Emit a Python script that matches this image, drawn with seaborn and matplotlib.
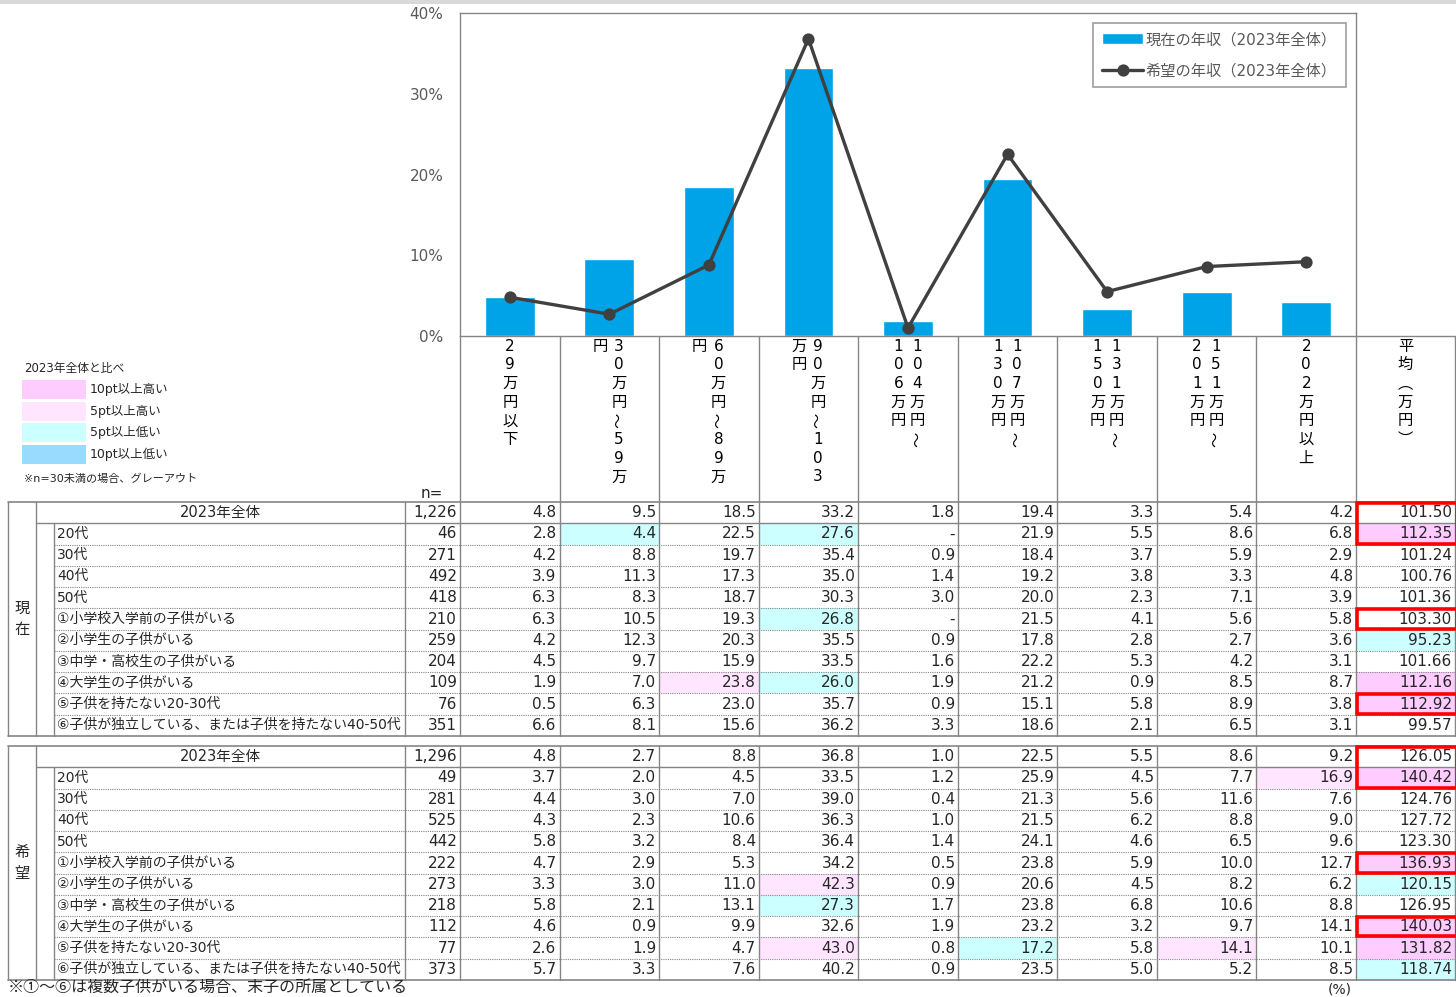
import numpy as np
import pandas as pd
import matplotlib
matplotlib.use("Agg")
import matplotlib.pyplot as plt
import seaborn as sns
from matplotlib.patches import Rectangle

# ---------------- data ----------------
categories = ["29万円以下", "30万円～59万円", "60万円～89万円", "90万円～103万円",
              "104万円～106万円", "107万円～130万円", "131万円～150万円",
              "151万円～201万円", "202万円以上"]
# vertical (tategaki) wrapping of the category headers, right column first
cat_label_columns = [["29万円以下"], ["30万円～59万", "円"], ["60万円～89万", "円"],
                     ["90万円～103", "万円"], ["104万円～", "106万円"], ["107万円～", "130万円"],
                     ["131万円～", "150万円"], ["151万円～", "201万円"], ["202万円以上"]]
mean_header = "平均︵万円︶"

row_labels = ["2023年全体", "20代", "30代", "40代", "50代",
              "①小学校入学前の子供がいる", "②小学生の子供がいる", "③中学・高校生の子供がいる",
              "④大学生の子供がいる", "⑤子供を持たない20-30代",
              "⑥子供が独立している、または子供を持たない40-50代"]

current_n = [1226, 46, 271, 492, 418, 210, 259, 204, 109, 76, 351]
current_vals = [
    [4.8, 9.5, 18.5, 33.2, 1.8, 19.4, 3.3, 5.4, 4.2],
    [2.8, 4.4, 22.5, 27.6, None, 21.9, 5.5, 8.6, 6.8],
    [4.2, 8.8, 19.7, 35.4, 0.9, 18.4, 3.7, 5.9, 2.9],
    [3.9, 11.3, 17.3, 35.0, 1.4, 19.2, 3.8, 3.3, 4.8],
    [6.3, 8.3, 18.7, 30.3, 3.0, 20.0, 2.3, 7.1, 3.9],
    [6.3, 10.5, 19.3, 26.8, None, 21.5, 4.1, 5.6, 5.8],
    [4.2, 12.3, 20.3, 35.5, 0.9, 17.8, 2.8, 2.7, 3.6],
    [4.5, 9.7, 15.9, 33.5, 1.6, 22.2, 5.3, 4.2, 3.1],
    [1.9, 7.0, 23.8, 26.0, 1.9, 21.2, 0.9, 8.5, 8.7],
    [0.5, 6.3, 23.0, 35.7, 0.9, 15.1, 5.8, 8.9, 3.8],
    [6.6, 8.1, 15.6, 36.2, 3.3, 18.6, 2.1, 6.5, 3.1]]
current_mean = [101.50, 112.35, 101.24, 100.76, 101.36, 103.30, 95.23, 101.66,
                112.16, 112.92, 99.57]

desired_n = [1296, 49, 281, 525, 442, 222, 273, 218, 112, 77, 373]
desired_vals = [
    [4.8, 2.7, 8.8, 36.8, 1.0, 22.5, 5.5, 8.6, 9.2],
    [3.7, 2.0, 4.5, 33.5, 1.2, 25.9, 4.5, 7.7, 16.9],
    [4.4, 3.0, 7.0, 39.0, 0.4, 21.3, 5.6, 11.6, 7.6],
    [4.3, 2.3, 10.6, 36.3, 1.0, 21.5, 6.2, 8.8, 9.0],
    [5.8, 3.2, 8.4, 36.4, 1.4, 24.1, 4.6, 6.5, 9.6],
    [4.7, 2.9, 5.3, 34.2, 0.5, 23.8, 5.9, 10.0, 12.7],
    [3.3, 3.0, 11.0, 42.3, 0.9, 20.6, 4.5, 8.2, 6.2],
    [5.8, 2.1, 13.1, 27.3, 1.7, 23.8, 6.8, 10.6, 8.8],
    [4.6, 0.9, 9.9, 32.6, 1.9, 23.2, 3.2, 9.7, 14.1],
    [2.6, 1.9, 4.7, 43.0, 0.8, 17.2, 5.8, 14.1, 10.1],
    [5.7, 3.3, 7.6, 40.2, 0.9, 23.5, 5.0, 5.2, 8.5]]
desired_mean = [126.05, 140.42, 124.76, 127.72, 123.30, 136.93, 120.15, 126.95,
                140.03, 131.82, 118.74]

# highlight levels: (row, col) -> level ; col 9 = mean
current_highlight = {(1, 1): -1, (1, 3): -1, (1, 9): 2, (5, 3): -1, (6, 9): -1,
                     (8, 2): 1, (8, 3): -1, (8, 9): 2, (9, 9): 2}
desired_highlight = {(1, 8): 1, (1, 9): 2, (5, 9): 2, (6, 3): 1, (6, 9): -1, (7, 3): -1,
                     (8, 9): 2, (9, 3): 1, (9, 5): -1, (9, 7): 1, (9, 9): 2, (10, 9): -1}
current_boxes = [(0, 1), (5, 5), (9, 9)]
desired_boxes = [(0, 1), (5, 5), (8, 8)]

legend_levels = [2, 1, -1, -2]
legend_texts = ["10pt以上高い", "5pt以上高い", "5pt以上低い", "10pt以上低い"]

series_names = ["現在の年収（2023年全体）", "希望の年収（2023年全体）"]
group_names = ["現在", "希望"]

# ---------------- style ----------------
sns.set_style("white")
plt.rcParams['font.family'] = ['DejaVu Sans', 'Noto Sans CJK JP']
BAR_C = "#00A2E8"
LINE_C = "#404040"
GRID_C = "#858585"
TXT_C = "#595959"
level_colors = {2: "#FFCCFF", 1: "#FFE5FF", -1: "#CCFFFF", -2: "#99DAFF"}

W, H = 1456, 997
fig = plt.figure(figsize=(W / 100, H / 100), dpi=100)
ax0 = fig.add_axes([0, 0, 1, 1])
ax0.set_xlim(0, W)
ax0.set_ylim(H, 0)
ax0.axis('off')

CL, CR, CT, CB = 460, 1356, 13, 336
ax = fig.add_axes([CL / W, 1 - CB / H, (CR - CL) / W, (CB - CT) / H])
ax.set_facecolor('none')

# top grey strip
ax0.add_patch(Rectangle((0, 0), W, 4, facecolor="#D9D9D9", edgecolor='none'))

# ---------------- chart ----------------
df_bar = pd.DataFrame({"cat": categories, "val": current_vals[0]})
df_line = pd.DataFrame({"cat": categories, "val": desired_vals[0]})
sns.barplot(data=df_bar, x="cat", y="val", color=BAR_C, saturation=1, width=0.5,
            errorbar=None, ax=ax, zorder=2)
nl = len(ax.lines)
sns.pointplot(data=df_line, x="cat", y="val", color=LINE_C, markers="o", linestyles="-",
              errorbar=None, ax=ax, markersize=7, linewidth=2.4)
line_handle = ax.lines[nl]
for ln in ax.lines[nl:]:
    ln.set_zorder(3)
ax.set_xlim(-0.5, 8.5)
ax.set_ylim(0, 40)
ax.set_yticks([0, 10, 20, 30, 40])
ax.set_yticklabels([f"{t}%" for t in [0, 10, 20, 30, 40]])
ax.set_xticks([])
ax.set_xlabel("")
ax.set_ylabel("")
ax.tick_params(axis='y', length=0, pad=12, labelsize=11, labelcolor=TXT_C)
for s in ax.spines.values():
    s.set_color(GRID_C)
    s.set_linewidth(1)
leg = ax.legend([ax.containers[0], line_handle], series_names,
                loc='upper right', bbox_to_anchor=((1346 - CL) / (CR - CL), (CB - 23) / (CB - CT)),
                borderaxespad=0, frameon=True, fancybox=False, edgecolor=GRID_C,
                fontsize=11, handlelength=2.7, handletextpad=0.15, labelspacing=1.05,
                borderpad=0.6)
leg.get_frame().set_linewidth(1.2)
for t in leg.get_texts():
    t.set_color(TXT_C)

# ---------------- geometry ----------------
col_w = (CR - CL) / 9
col_edges = [CL + i * col_w for i in range(10)] + [W - 1]
X_OUT, X_GRP, X_IND, X_N = 8, 36, 54, 405

# category headers (vertical text)
for i, cols in enumerate(cat_label_columns):
    cx = CL + (i + 0.5) * col_w
    offs = [0] if len(cols) == 1 else [9.5, -9.5]
    for off, s in zip(offs, cols):
        for k, ch in enumerate(s):
            ax0.text(cx + off, 346 + k * 18.7, ch, ha='center', va='center', fontsize=11,
                     rotation=90 if ch == '～' else 0, color='black')
mx = (col_edges[9] + col_edges[10]) / 2
for k, ch in enumerate(mean_header):
    ax0.text(mx, 346 + k * 18.7, ch, ha='center', va='center', fontsize=11,
             family=['Noto Sans CJK JP'], color='black')

# header area lines
ax0.plot([CR, W - 1], [CB, CB], color=GRID_C, lw=1)
for x in col_edges:
    ax0.plot([x, x], [CB, 502], color=GRID_C, lw=1)

# colour legend (left)
ax0.text(24, 368, "2023年全体と比べ", ha='left', va='center', fontsize=8.5)
sw_y = [380, 402, 423, 445]
for y, lv, t in zip(sw_y, legend_levels, legend_texts):
    ax0.add_patch(Rectangle((22, y), 64, 19, facecolor=level_colors[lv], edgecolor='none'))
    ax0.text(90, y + 9.5, t, ha='left', va='center', fontsize=9)
ax0.text(24, 479, "※n=30未満の場合、グレーアウト", ha='left', va='center', fontsize=8)
ax0.text(443, 493, "n=", ha='right', va='center', fontsize=11)

NR = len(row_labels)
RH = 234 / NR


def draw_section(top, gname, nvals, vals, means, highlights, boxes):
    bottom = top + NR * RH
    for (r, c), lv in highlights.items():
        ax0.add_patch(Rectangle((col_edges[c], top + r * RH), col_edges[c + 1] - col_edges[c], RH,
                                facecolor=level_colors[lv], edgecolor='none', zorder=1))
    for r in range(NR):
        yc = top + (r + 0.5) * RH
        if r == 0:
            ax0.text((X_GRP + X_N) / 2, yc, row_labels[r], ha='center', va='center', fontsize=10.5)
        else:
            ax0.text(X_IND + 3, yc, row_labels[r], ha='left', va='center', fontsize=10)
        ax0.text(X_N + 52, yc, f"{nvals[r]:,}", ha='right', va='center', fontsize=11)
        for c in range(9):
            v = vals[r][c]
            s = "-" if v is None else f"{v:.1f}"
            ax0.text(col_edges[c + 1] - 3, yc, s, ha='right', va='center', fontsize=11)
        ax0.text(W - 4, yc, f"{means[r]:.2f}", ha='right', va='center', fontsize=11)
    # group label
    gy = (top + bottom) / 2
    for k, ch in enumerate(gname):
        ax0.text((X_OUT + X_GRP) / 2, gy + (k - 0.5) * 21, ch, ha='center', va='center', fontsize=11)
    # horizontal lines
    ax0.plot([X_OUT, W - 1], [top, top], color=GRID_C, lw=1.2, zorder=3)
    ax0.plot([X_GRP, W - 1], [top + RH, top + RH], color=GRID_C, lw=1, zorder=3)
    for r in range(2, NR):
        ax0.plot([X_IND, W - 1], [top + r * RH] * 2, color=GRID_C, lw=0.8,
                 linestyle=(0, (1, 1)), zorder=3)
    ax0.plot([X_OUT, W - 1], [bottom, bottom], color=GRID_C, lw=1.2, zorder=3)
    # vertical lines
    for x in [X_OUT, X_GRP, X_N] + col_edges:
        ax0.plot([x, x], [top, bottom], color=GRID_C, lw=1, zorder=3)
    ax0.plot([X_IND, X_IND], [top + RH, bottom], color=GRID_C, lw=1, zorder=3)
    # red boxes
    for r0, r1 in boxes:
        ax0.add_patch(Rectangle((col_edges[9] + 1, top + r0 * RH + 1), W - col_edges[9],
                                (r1 - r0 + 1) * RH - 2, facecolor='none', edgecolor='#FF0000',
                                lw=2.6, zorder=5))


draw_section(502, group_names[0], current_n, current_vals, current_mean,
             current_highlight, current_boxes)
draw_section(746, group_names[1], desired_n, desired_vals, desired_mean,
             desired_highlight, desired_boxes)

ax0.text(8, 996, "※①～⑥は複数子供がいる場合、末子の所属としている", ha='left', va='bottom',
         fontsize=11.5, family=['Noto Sans CJK JP'])
ax0.text(1340, 989, "(%)", ha='center', va='center', fontsize=10)

fig.savefig("out.png", dpi=100)
